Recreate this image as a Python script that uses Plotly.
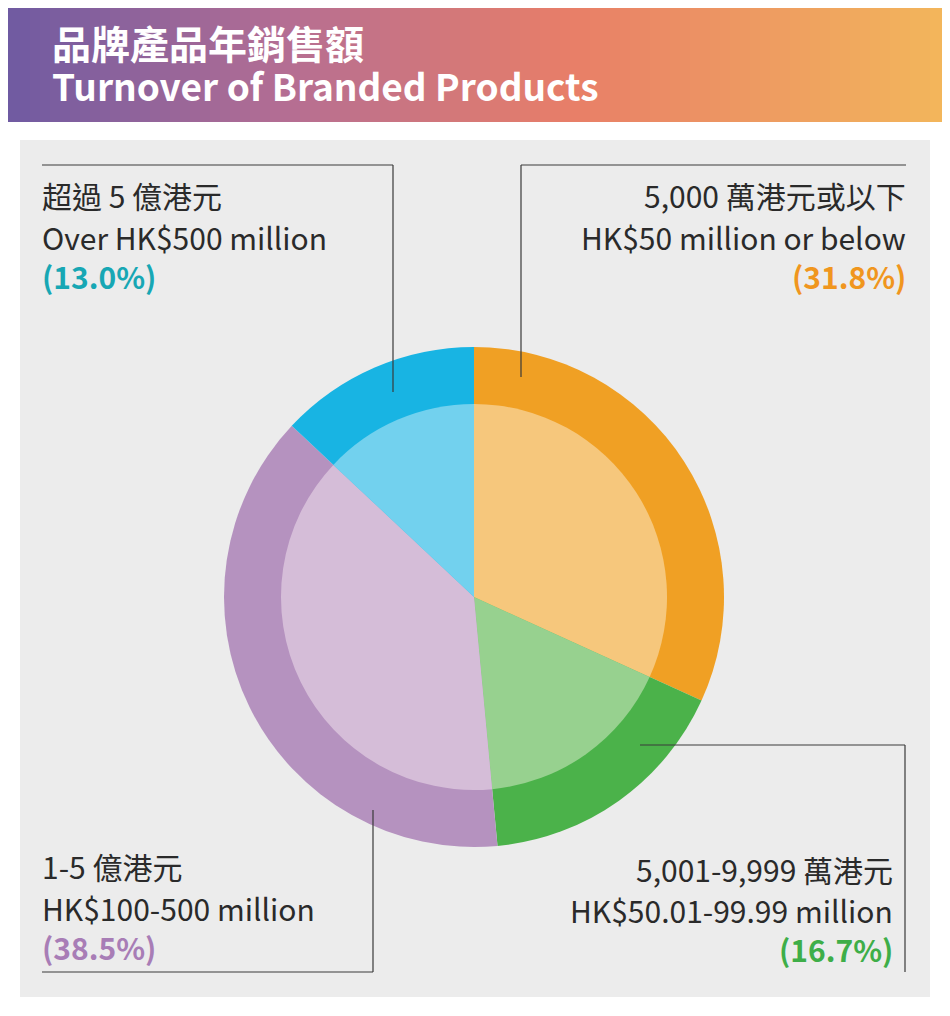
import plotly.graph_objects as go

# Data
categories = ['5,000 萬港元或以下', '5,001-9,999 萬港元', '1-5 億港元', '超過 5 億港元']
shares = [31.8, 16.7, 38.5, 13.0]
outer_colors = ['#f0a024', '#4bb24a', '#b592bf', '#18b4e3']
inner_colors = ['#f6c77c', '#97d18f', '#d5bdd8', '#72d1ee']

OFF = 8  # page body margin
W, H = 950 - OFF, 1016 - OFF


def px(x):
    return (x - OFF) / W


def py(y):
    return 1 - (y - OFF) / H


fig = go.Figure()

# outer ring
fig.add_trace(go.Pie(values=shares, labels=categories, sort=False, direction='clockwise',
                     marker=dict(colors=outer_colors, line=dict(width=0)), textinfo='none',
                     hoverinfo='label+percent', showlegend=False,
                     domain=dict(x=[px(224), px(724)], y=[py(847), py(347)])))
# inner lighter pie
fig.add_trace(go.Pie(values=shares, labels=categories, sort=False, direction='clockwise',
                     marker=dict(colors=inner_colors, line=dict(width=0)), textinfo='none',
                     hoverinfo='skip', showlegend=False,
                     domain=dict(x=[px(281), px(667)], y=[py(790), py(404)])))

shapes = []


def hexmix(a, b, t):
    ca = [int(a[i:i + 2], 16) for i in (1, 3, 5)]
    cb = [int(b[i:i + 2], 16) for i in (1, 3, 5)]
    return '#%02x%02x%02x' % tuple(round(ca[k] + (cb[k] - ca[k]) * t) for k in range(3))


# header gradient
stops = [(0, '#6e5aa2'), (0.3, '#b56e93'), (0.6, '#e87e68'), (1, '#f3b65b')]
n = 95
for i in range(n):
    t = i / (n - 1)
    for j in range(len(stops) - 1):
        if stops[j][0] <= t <= stops[j + 1][0]:
            lt = (t - stops[j][0]) / (stops[j + 1][0] - stops[j][0])
            c = hexmix(stops[j][1], stops[j + 1][1], lt)
            break
    shapes.append(dict(type='rect', xref='paper', yref='paper', layer='below',
                       x0=px(i * 950 / n), x1=px((i + 1) * 950 / n + 1), y0=py(122), y1=py(0),
                       fillcolor=c, line=dict(width=0)))

# grey panel
shapes.append(dict(type='rect', xref='paper', yref='paper', layer='below',
                   x0=px(20), x1=px(930), y0=py(997), y1=py(140),
                   fillcolor='#ececec', line=dict(width=0)))

# leader lines
leaders = [
    [(393, 392), (393, 165), (42, 165)],
    [(521, 377), (521, 165), (906, 165)],
    [(640, 745), (905, 745), (905, 972)],
    [(373, 810), (373, 972), (42, 972)],
]
for pts in leaders:
    for (x0, y0), (x1, y1) in zip(pts[:-1], pts[1:]):
        shapes.append(dict(type='line', xref='paper', yref='paper', layer='above',
                           x0=px(x0), y0=py(y0), x1=px(x1), y1=py(y1),
                           line=dict(color='#3a3a3a', width=1.2)))

FONT = 'Noto Sans CJK TC, Noto Sans, sans-serif'
ann = []


def label(x, y, text, anchor, size=30, color='#2a2a2a', bold=False):
    if bold:
        text = '<b>' + text + '</b>'
    ann.append(dict(x=px(x), y=py(y), xref='paper', yref='paper', text=text, showarrow=False,
                    xanchor=anchor, yanchor='middle', font=dict(family=FONT, size=size, color=color)))


label(50, 42, '品牌產品年銷售額', 'left', 39, 'white', True)
label(50, 85, 'Turnover of Branded Products', 'left', 37, 'white', True)

label(40, 195, '超過 5 億港元', 'left')
label(40, 237, 'Over HK$500 million', 'left')
label(40, 276, '(13.0%)', 'left', 30, '#17a7b4', True)

label(908, 195, '5,000 萬港元或以下', 'right')
label(908, 237, 'HK$50 million or below', 'right')
label(908, 276, '(31.8%)', 'right', 30, '#f0961e', True)

label(40, 866, '1-5 億港元', 'left')
label(40, 908, 'HK$100-500 million', 'left')
label(40, 947, '(38.5%)', 'left', 30, '#a87db6', True)

label(895, 869, '5,001-9,999 萬港元', 'right')
label(895, 910, 'HK$50.01-99.99 million', 'right')
label(895, 949, '(16.7%)', 'right', 30, '#3eae48', True)

fig.update_layout(width=W, height=H, margin=dict(l=0, r=0, t=0, b=0),
                  paper_bgcolor='white', plot_bgcolor='white',
                  shapes=shapes, annotations=ann)

fig.write_html("out.html")
